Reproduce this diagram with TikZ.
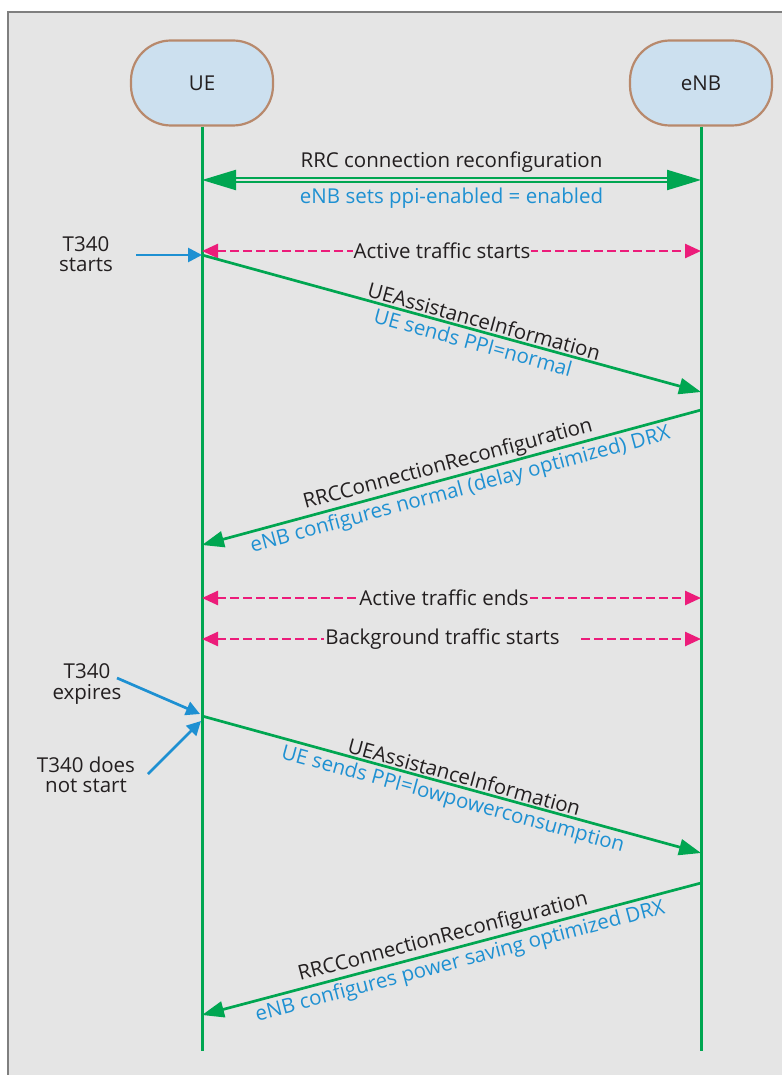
\documentclass[tikz,border=0pt]{standalone}
\usepackage{fontspec}
\setmainfont{Open Sans}
\usetikzlibrary{arrows.meta}
\definecolor{bggray}{HTML}{E5E5E5}
\definecolor{framegray}{HTML}{7F7F7F}
\definecolor{entblue}{HTML}{CCE0EF}
\definecolor{entbrown}{HTML}{B8896C}
\definecolor{lgreen}{HTML}{00A651}
\definecolor{tblue}{HTML}{1E90D2}
\definecolor{evpink}{HTML}{EC1C7A}
\definecolor{txtdark}{HTML}{231F20}

\begin{document}
\begin{tikzpicture}[x=1pt, y=-1pt, font=\fontsize{20.5}{20.5}\selectfont, text=txtdark,
  entity/.style={draw=entbrown, line width=2.2pt, fill=entblue, rounded corners=40pt,
    minimum width=142pt, minimum height=85pt},
  life/.style={draw=lgreen, line width=3pt},
  msg/.style={draw=lgreen, line width=2.7pt, -{Triangle[length=22pt,width=16pt]}},
  dblmsg/.style={draw=lgreen, line width=2.2pt, double=bggray, double distance=2.4pt,
    {Triangle[length=34pt,width=20pt]}-{Triangle[length=34pt,width=20pt]}},
  event/.style={draw=evpink, line width=2.5pt, dash pattern=on 8.5pt off 4.5pt,
    {Triangle[length=16pt,width=14pt]}-{Triangle[length=16pt,width=14pt]}},
  timer/.style={draw=tblue, line width=2.7pt, -{Triangle[length=14pt,width=14pt]}},
  blu/.style={text=tblue},
  evtxt/.style={fill=bggray, inner xsep=1pt, inner ysep=1pt},
  note/.style={align=center}]
\useasboundingbox (0,0) rectangle (782,1075);
\fill[bggray] (8,12) rectangle (782,1075);
\draw[framegray, line width=1.2pt] (8,1075) -- (8,12) -- (782,12);

\node[entity] (ue) at (202,83) {UE};
\node[entity] (enb) at (701,83) {eNB};
\coordinate (ueend) at (202,1051);
\coordinate (enbend) at (701,1051);
\draw[life] (ue.south) -- (ueend);
\draw[life] (enb.south) -- (enbend);

\coordinate (ue1) at (202,180);
\coordinate (enb1) at (701,180);
\coordinate (ue2) at (202,251);
\coordinate (enb2) at (701,251);
\coordinate (ue3) at (202,255);
\coordinate (enb3) at (701,392);
\coordinate (enb4) at (701,410);
\coordinate (ue4) at (202,545);
\coordinate (ue5) at (202,598);
\coordinate (enb5) at (701,598);
\coordinate (ue6) at (202,639);
\coordinate (enb6) at (701,639);
\coordinate (ue7) at (202,716);
\coordinate (enb7) at (701,853);
\coordinate (enb8) at (701,883);
\coordinate (ue8) at (202,1015);

\draw[dblmsg] (ue1) -- (enb1)
  node[pos=0.5, above=3pt] {RRC connection reconfiguration}
  node[pos=0.5, below=3pt, blu] {eNB sets ppi-enabled = enabled};
\draw[event] (ue2) -- (enb2) node[evtxt, pos=0.481] {Active traffic starts};
\draw[msg] (ue3) -- (enb3)
  node[pos=0.56, sloped, above, inner sep=1.5pt] {UEAssistanceInformation}
  node[pos=0.55, sloped, below, inner sep=3pt, blu] {UE sends PPI=normal};
\draw[msg] (enb4) -- (ue4)
  node[pos=0.5, sloped, above, inner sep=1.5pt] {RRCConnectionReconfiguration}
  node[pos=0.49, sloped, below, inner sep=3pt, blu] {eNB configures normal (delay optimized) DRX};
\draw[event] (ue5) -- (enb5) node[evtxt, pos=0.485] {Active traffic ends};
\draw[event] (ue6) -- (enb6) node[evtxt, pos=0.5] {Background traffic starts\rule{18pt}{0pt}};
\draw[msg] (ue7) -- (enb7)
  node[pos=0.52, sloped, above, inner sep=1.5pt] {UEAssistanceInformation}
  node[pos=0.51, sloped, below, inner sep=3pt, blu] {UE sends PPI=lowpowerconsumption};
\draw[msg] (enb8) -- (ue8)
  node[pos=0.51, sloped, above, inner sep=1.5pt] {RRCConnectionReconfiguration}
  node[pos=0.49, sloped, below, inner sep=3pt, blu] {eNB configures power saving optimized DRX};

\node[note] (starts) at (86,254) {T340\\starts};
\node[note] (expires) at (87,684) {T340\\expires};
\node[note] (nostart) at (86,775) {T340 does\\not start};
\coordinate (t1) at (136,255);
\coordinate (t2) at (117,678);
\coordinate (t2end) at (200,714);
\coordinate (t3) at (148,774);
\coordinate (t3end) at (201,721);
\draw[timer] (t1) -- (ue3);
\draw[timer] (t2) -- (t2end);
\draw[timer] (t3) -- (t3end);
\end{tikzpicture}
\end{document}
